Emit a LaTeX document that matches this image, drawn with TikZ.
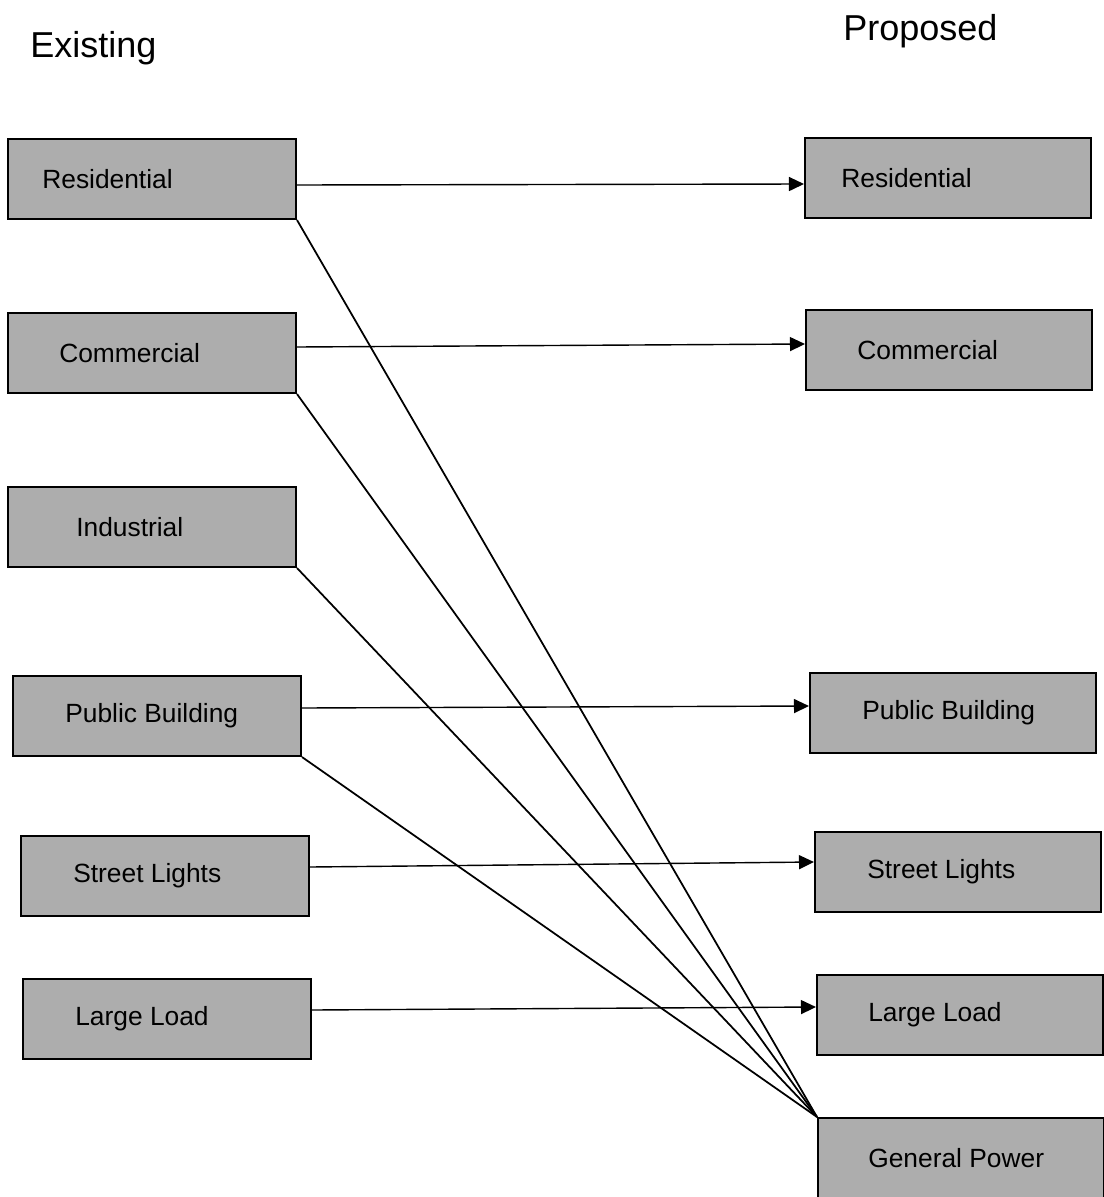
\documentclass[tikz,border=0pt]{standalone}
\usepackage{fontspec}
\setmainfont{Liberation Sans}
\usepackage{tikz}
\usetikzlibrary{arrows.meta,positioning}

\begin{document}
\begin{tikzpicture}[
  x=0.02cm, y=-0.02cm,
  box/.style={draw, fill=black!32, line width=1.2pt, minimum width=5.76cm, minimum height=1.6cm, inner sep=0pt},
  lbl/.style={anchor=west, inner sep=0pt, font=\fontsize{15}{18}\selectfont},
  title/.style={anchor=base west, inner sep=0pt, font=\fontsize{20.5}{24}\selectfont},
  arrow/.style={-{Triangle[length=0.3cm, width=0.28cm]}, line width=0.8pt},
  feed/.style={line width=1pt}
]
  \useasboundingbox (0,0) rectangle (1104,1197);

  % column titles
  \node[title] (exist) at (30,57) {Existing};
  \node[title] (prop)  at (843,40) {Proposed};

  % existing tariff classes
  \node[box] (eres) at (152,179)  {};
  \node[box] (ecom) at (152,353)  {};
  \node[box] (eind) at (152,527)  {};
  \node[box] (epub) at (157,716)  {};
  \node[box] (estr) at (165,876)  {};
  \node[box] (elrg) at (167,1019) {};

  \node[lbl, right=0.7cm of eres.west]  (eresl) {Residential};
  \node[lbl, right=1.04cm of ecom.west] (ecoml) {Commercial};
  \node[lbl, right=1.38cm of eind.west] (eindl) {Industrial};
  \node[lbl, right=1.06cm of epub.west] (epubl) {Public Building};
  \node[lbl, right=1.06cm of estr.west] (estrl) {Street Lights};
  \node[lbl, right=1.06cm of elrg.west] (elrgl) {Large Load};

  % proposed tariff classes
  \node[box, minimum width=5.72cm] (pres) at (948,178)  {};
  \node[box, minimum width=5.72cm] (pcom) at (949,350)  {};
  \node[box, minimum width=5.72cm] (ppub) at (953,713)  {};
  \node[box, minimum width=5.72cm] (pstr) at (958,872)  {};
  \node[box, minimum width=5.72cm] (plrg) at (960,1015) {};
  \node[box, minimum width=5.72cm] (pgen) at (961,1158) {};

  \node[lbl, right=0.74cm of pres.west] (presl) {Residential};
  \node[lbl, right=1.04cm of pcom.west] (pcoml) {Commercial};
  \node[lbl, right=1.06cm of ppub.west] (ppubl) {Public Building};
  \node[lbl, right=1.06cm of pstr.west] (pstrl) {Street Lights};
  \node[lbl, right=1.04cm of plrg.west] (plrgl) {Large Load};
  \node[lbl, right=1.02cm of pgen.west] (pgenl) {General Power};

  % direct mappings
  \draw[arrow] ([yshift=-0.12cm]eres.east) -- ([yshift=-0.12cm]pres.west);
  \draw[arrow] ([yshift=0.12cm]ecom.east) -- ([yshift=0.12cm]pcom.west);
  \draw[arrow] ([yshift=0.16cm]epub.east) -- ([yshift=0.14cm]ppub.west);
  \draw[arrow] ([yshift=0.18cm]estr.east) -- ([yshift=0.2cm]pstr.west);
  \draw[arrow] ([yshift=0.18cm]elrg.east) -- ([yshift=0.16cm]plrg.west);

  % classes merged into general power
  \draw[feed] (eres.south east) -- (pgen.north west);
  \draw[feed] (ecom.south east) -- (pgen.north west);
  \draw[feed] (eind.south east) -- (pgen.north west);
  \draw[feed] (epub.south east) -- (pgen.north west);
\end{tikzpicture}
\end{document}
